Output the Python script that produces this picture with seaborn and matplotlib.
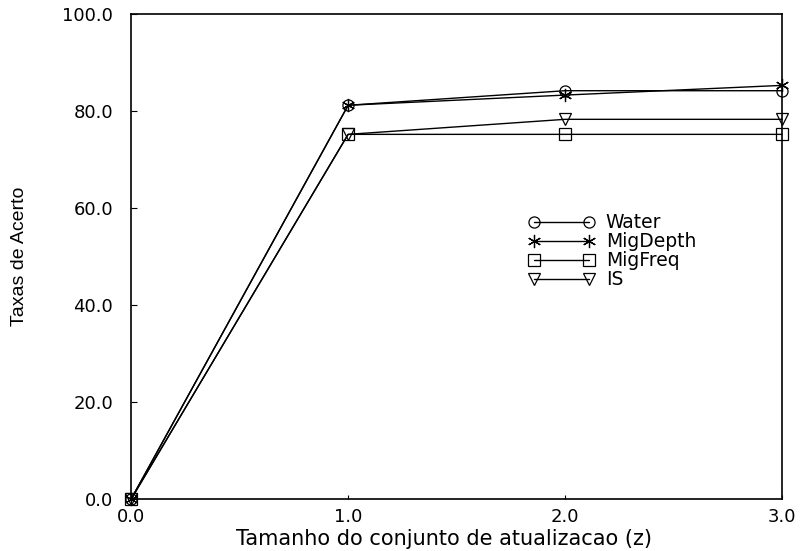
import matplotlib
matplotlib.use("Agg")
import matplotlib.pyplot as plt
import seaborn as sns
import pandas as pd

# Update-set size (z) and hit rates for each method
z_values = [0.0, 1.0, 2.0, 3.0]
water = [0.0, 81.2, 84.2, 84.2]
mig_depth = [0.0, 81.2, 83.3, 85.3]
mig_freq = [0.0, 75.2, 75.2, 75.2]
is_rates = [0.0, 75.2, 78.3, 78.3]

series_names = ["Water", "MigDepth", "MigFreq", "IS"]
series_values = [water, mig_depth, mig_freq, is_rates]
markers = {"Water": "o", "MigDepth": (6, 2, 0), "MigFreq": "s", "IS": "v"}

x_ticks = [0.0, 1.0, 2.0, 3.0]
y_ticks = [0.0, 20.0, 40.0, 60.0, 80.0, 100.0]

df = pd.DataFrame(
    [(z, v, name) for name, vals in zip(series_names, series_values)
     for z, v in zip(z_values, vals)],
    columns=["z", "taxa", "metodo"],
)

sns.set_theme(style="white")
plt.rcParams["font.family"] = ["DejaVu Sans"]
plt.rcParams.update({
    "text.color": "black", "axes.labelcolor": "black",
    "xtick.color": "black", "ytick.color": "black",
})

fig = plt.figure(figsize=(8, 5.51), dpi=100)
ax = fig.add_axes([0.164, 0.0944, 0.8135, 0.880])

for name in series_names:
    sub = df[df["metodo"] == name]
    mk = markers[name]
    face = "black" if name == "MigDepth" else "none"
    sns.lineplot(
        data=sub, x="z", y="taxa", ax=ax, color="black", linewidth=1.0,
        marker=mk, markersize=9.5 if name == "MigDepth" else 8,
        markerfacecolor=face, markeredgecolor="black", markeredgewidth=0.9,
        label=name, clip_on=False,
    )

ax.set_xlim(0.0, 3.0)
ax.set_ylim(0.0, 100.0)
ax.set_xticks(x_ticks)
ax.set_yticks(y_ticks)
ax.set_xticklabels([f"{t:.1f}" for t in x_ticks], fontsize=13)
ax.set_yticklabels([f"{t:.1f}" for t in y_ticks], fontsize=13)
ax.tick_params(axis="x", direction="in", length=3, width=0.8, color="black",
               pad=6.5, bottom=True)
ax.tick_params(axis="y", direction="in", length=4, width=0.8, color="black",
               pad=13, left=True)
for sp in ax.spines.values():
    sp.set_color("black")
    sp.set_linewidth(1.2)

ax.set_xlabel("Tamanho do conjunto de atualizacao (z)", fontsize=15)
ax.xaxis.set_label_coords(0.48, -0.062)
ax.set_ylabel("Taxas de Acerto", fontsize=14, family=["Liberation Sans"])
ax.yaxis.set_label_coords(-0.158, 0.5)

leg = ax.legend(
    loc="upper left", bbox_to_anchor=(0.585, 0.624), frameon=False,
    numpoints=2, handlelength=3.5, fontsize=13.5, labelspacing=0.0,
    handletextpad=0.6,
)

fig.savefig("out.png", dpi=100)
